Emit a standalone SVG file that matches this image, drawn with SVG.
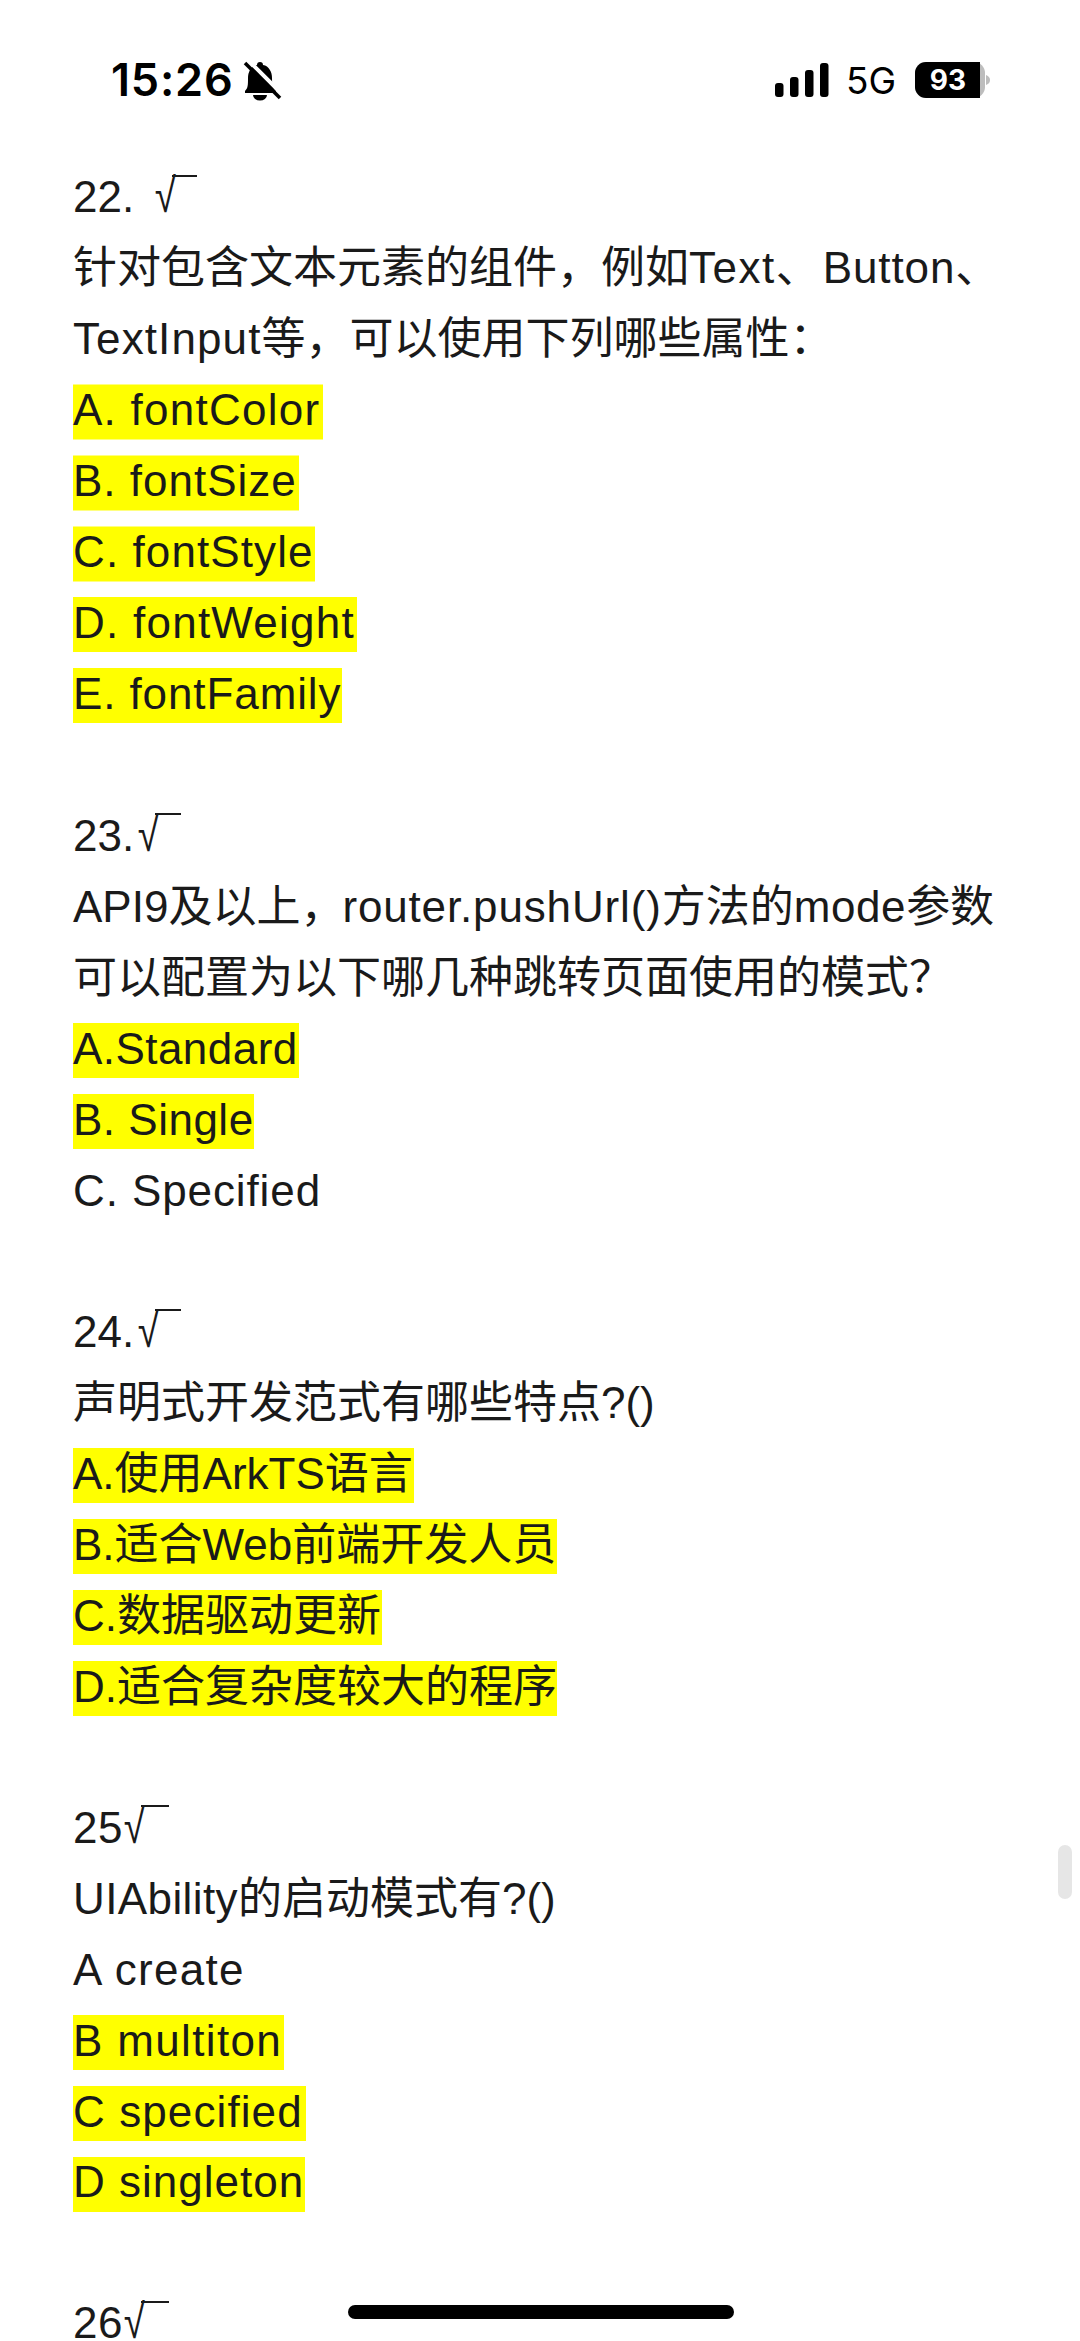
<svg xmlns="http://www.w3.org/2000/svg" width="1080" height="2341" viewBox="0 0 1080 2341">
<style>
.t{font-family:"Liberation Sans","Noto Sans CJK SC",sans-serif;font-size:44px;fill:#1a1a1a}
.q{font-family:"Liberation Sans","Noto Sans CJK SC",sans-serif;font-size:48px;fill:#1a1a1a}
.h{fill:#ffff00}
.r{stroke:#1a1a1a;stroke-width:2;fill:none}
</style>
<rect width="1080" height="2341" fill="#fff"/>
<g id="statusbar">
<text x="111" y="96" font-family="Inter,sans-serif" font-weight="600" font-size="45" letter-spacing="0.8" fill="#000">15:26</text>
<path d="M260 62c2 0 3 1 3 3 6 1 9 7 9 13 0 7 1 10 4 13v2h-31v-2c3-3 3-6 3-13 0-6 3-12 9-13 0-2 1-3 3-3z" fill="#000"/>
<path d="M253 95a7 5.500 0 0 0 14 0z" fill="#000"/>
<path d="M248 60l35 35" stroke="#fff" stroke-width="4"/>
<path d="M245 63l35 35" stroke="#000" stroke-width="3.500"/>
<g fill="#000"><rect x="775" y="83" width="8.500" height="14" rx="3"/><rect x="790" y="77" width="8.500" height="20" rx="3"/><rect x="805" y="70" width="8.500" height="27" rx="3"/><rect x="820" y="63" width="8.500" height="34" rx="3"/></g>
<text x="846" y="94" font-family="Inter,sans-serif" font-size="37" fill="#000">5G</text>
<rect x="915" y="62" width="70" height="36" rx="11" fill="#bdbdbd"/>
<path d="M926 62h54v36h-54a11 11 0 0 1-11-11v-14a11 11 0 0 1 11-11z" fill="#000"/>
<path d="M986 75c3 1 4 3 4 5s-1 4-4 5z" fill="#bdbdbd"/>
<text x="948" y="90" text-anchor="middle" font-family="Inter,sans-serif" font-weight="700" font-size="28" fill="#fff">93</text>
</g>
<g id="highlights">
<rect class="h" x="73" y="384.500" width="250" height="55"/>
<rect class="h" x="73" y="455.500" width="226" height="55"/>
<rect class="h" x="73" y="526.500" width="242" height="55"/>
<rect class="h" x="73" y="597" width="284" height="55"/>
<rect class="h" x="73" y="668" width="269" height="55"/>
<rect class="h" x="73" y="1023" width="226" height="55"/>
<rect class="h" x="73" y="1094" width="181" height="55"/>
<rect class="h" x="73" y="1448" width="341" height="55"/>
<rect class="h" x="73" y="1519" width="484" height="55"/>
<rect class="h" x="73" y="1590" width="309" height="55"/>
<rect class="h" x="73" y="1661" width="484" height="55"/>
<rect class="h" x="73" y="2015" width="211" height="55"/>
<rect class="h" x="73" y="2086" width="233" height="55"/>
<rect class="h" x="73" y="2157" width="232" height="55"/>
</g>
<g id="text">
<text class="t" x="73" y="212">22.</text><text class="q" transform="translate(174 212) scale(.8 1)" x="-24" y="0">√</text><path class="r" d="M172 176h25"/>
<text class="t" x="73" y="283">针对包含文本元素的组件，例如<tspan letter-spacing="1.5">Text</tspan>、<tspan dx="3" letter-spacing="0.9">Button</tspan>、</text>
<text class="t" x="73" y="354"><tspan letter-spacing="1.1">TextInput</tspan>等，可以使用下列哪些属性：</text>
<text class="t" x="73" y="425" letter-spacing="1.25">A. fontColor</text>
<text class="t" x="73" y="496" letter-spacing="1">B. fontSize</text>
<text class="t" x="73" y="567" letter-spacing="1.1">C. fontStyle</text>
<text class="t" x="73" y="638" letter-spacing="1.25">D. fontWeight</text>
<text class="t" x="73" y="709" letter-spacing="0.9">E. fontFamily</text>
<text class="t" x="73" y="851">23.</text><text class="q" transform="translate(157 851) scale(.8 1)" x="-24" y="0">√</text><path class="r" d="M155 814h26"/>
<text class="t" x="73" y="922">API9及以上，<tspan dx="-2" letter-spacing="0.85">router.pushUrl()</tspan>方法的<tspan letter-spacing="0.6">mode</tspan>参数</text>
<text class="t" x="73" y="993">可以配置为以下哪几种跳转页面使用的模式？</text>
<text class="t" x="73" y="1064" letter-spacing="0.45">A.Standard</text>
<text class="t" x="73" y="1135" letter-spacing="0.5">B. Single</text>
<text class="t" x="73" y="1206" letter-spacing="0.9">C. Specified</text>
<text class="t" x="73" y="1347">24.</text><text class="q" transform="translate(157 1347) scale(.8 1)" x="-24" y="0">√</text><path class="r" d="M155 1310h26"/>
<text class="t" x="73" y="1418">声明式开发范式有哪些特点?()</text>
<text class="t" x="73" y="1489">A.使用ArkTS语言</text>
<text class="t" x="73" y="1560">B.适合Web前端开发人员</text>
<text class="t" x="73" y="1631">C.数据驱动更新</text>
<text class="t" x="73" y="1702">D.适合复杂度较大的程序</text>
<text class="t" x="73" y="1843" letter-spacing="0.5">25</text><text class="q" transform="translate(143 1843) scale(.8 1)" x="-24" y="0">√</text><path class="r" d="M141 1806h28"/>
<text class="t" x="73" y="1914"><tspan letter-spacing="0.4">UIAbility</tspan>的启动模式有?()</text>
<text class="t" x="73" y="1985" letter-spacing="1.3">A create</text>
<text class="t" x="73" y="2056" letter-spacing="1.35">B multiton</text>
<text class="t" x="73" y="2127" letter-spacing="1.1">C specified</text>
<text class="t" x="73" y="2197" letter-spacing="1">D singleton</text>
<text class="t" x="73" y="2338" letter-spacing="0.5">26</text><text class="q" transform="translate(143 2338) scale(.8 1)" x="-24" y="0">√</text><path class="r" d="M141 2302h28"/>
</g>
<rect id="scrollbar" x="1058" y="1845" width="14" height="54" rx="7" fill="#e6e6e6"/>
<rect id="home-indicator" x="348" y="2305" width="386" height="14" rx="7" fill="#000"/>
</svg>
